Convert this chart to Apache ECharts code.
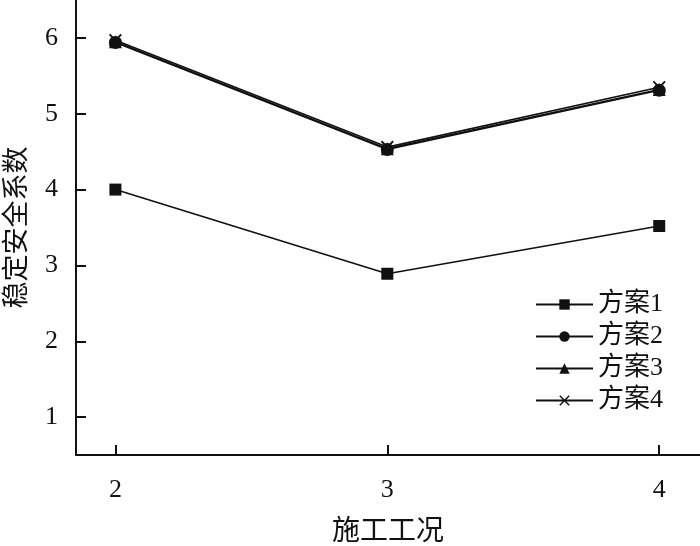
<!DOCTYPE html>
<html>
<head>
<meta charset="utf-8">
<script src="https://cdn.jsdelivr.net/npm/echarts@6/dist/echarts.min.js"></script>
<style>
  html, body { margin: 0; padding: 0; background: #fff; }
  #chart { width: 700px; height: 546px; }
</style>
</head>
<body>
<div id="chart"></div>
<script>
  // 施工工况
  var stages = [2, 3, 4]
  var yTicks = [1, 2, 3, 4, 5, 6]
  var names = ['方案1', '方案2', '方案3', '方案4']
  var plan1 = [4.00, 2.89, 3.52]
  var plan2 = [5.94, 4.53, 5.31]
  var plan3 = [5.95, 4.54, 5.32]
  var plan4 = [5.97, 4.56, 5.35]

  var font = '"Liberation Serif", "Noto Sans CJK SC", serif'
  var crossPath = 'path://M0,1L1,0L5,4L9,0L10,1L6,5L10,9L9,10L5,6L1,10L0,9L4,5Z'

  function pairs(arr) {
    var out = []
    for (var i = 0; i < stages.length; i++) {
      out.push([stages[i], arr[i]])
    }
    return out
  }

  function line(name, arr, symbol, size) {
    return {
      name: name,
      type: 'line',
      data: pairs(arr),
      symbol: symbol,
      symbolSize: size,
      showSymbol: true,
      lineStyle: { color: '#111', width: 1.6 },
      itemStyle: { color: '#111' },
      emphasis: { disabled: true }
    }
  }

  var chart = echarts.init(document.getElementById('chart'))
  var option = {
    animation: false,
    backgroundColor: '#fff',
    grid: { left: 76, right: 0, top: 0, bottom: 91, containLabel: false, outerBoundsMode: 'none' },
    legend: {
      orient: 'vertical',
      left: 530,
      top: 286,
      itemWidth: 57,
      itemHeight: 13,
      itemGap: 5,
      data: names,
      textStyle: { fontFamily: font, fontSize: 26, color: '#111', lineHeight: 27 }
    },
    xAxis: {
      type: 'value',
      min: 1.855,
      max: 4.15,
      name: '施工工况',
      nameLocation: 'middle',
      nameGap: 64,
      nameTextStyle: { fontFamily: font, fontSize: 28, color: '#111' },
      axisLine: { show: true, lineStyle: { color: '#111', width: 2 } },
      axisTick: { show: true, inside: true, length: 10, customValues: stages, lineStyle: { color: '#111', width: 2 } },
      axisLabel: { customValues: stages, margin: 22, fontFamily: font, fontSize: 26, color: '#111' },
      splitLine: { show: false }
    },
    yAxis: {
      type: 'value',
      min: 0.5,
      max: 6.5,
      name: '稳定安全系数',
      nameLocation: 'middle',
      nameGap: 45,
      nameTextStyle: { fontFamily: font, fontSize: 27, color: '#111' },
      axisLine: { show: true, lineStyle: { color: '#111', width: 2 } },
      axisTick: { show: true, inside: true, length: 10, customValues: yTicks, lineStyle: { color: '#111', width: 2 } },
      axisLabel: { customValues: yTicks, margin: 18, fontFamily: font, fontSize: 26, color: '#111' },
      splitLine: { show: false }
    },
    series: [
      line(names[0], plan1, 'rect', 12),
      line(names[1], plan2, 'circle', 13),
      line(names[2], plan3, 'triangle', 13),
      line(names[3], plan4, crossPath, 13)
    ]
  }
  chart.setOption(option)
</script>
</body>
</html>
